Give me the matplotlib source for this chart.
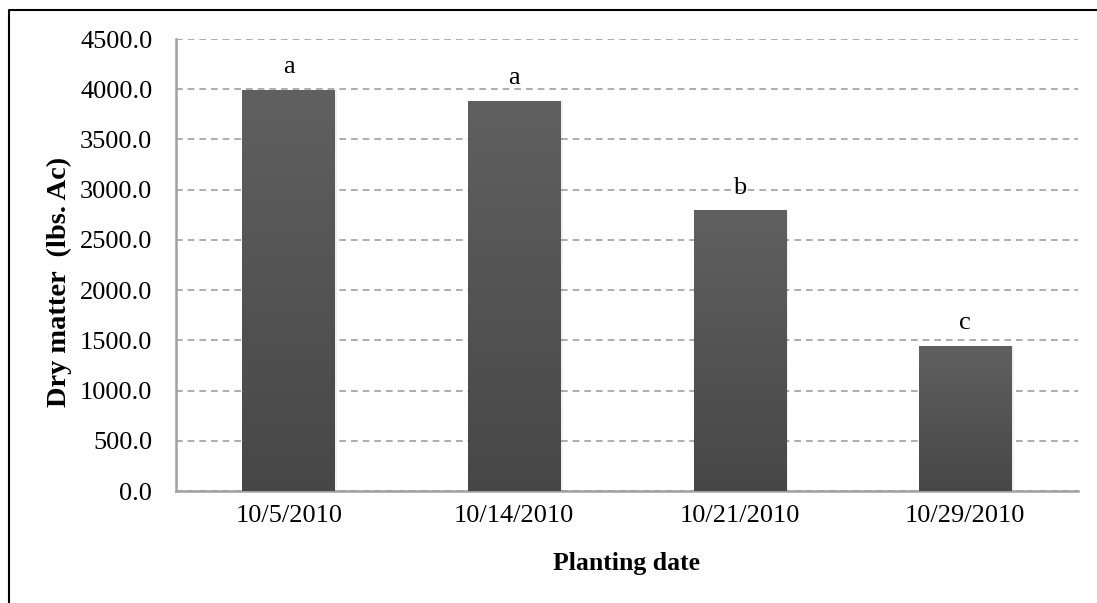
import matplotlib
matplotlib.use("Agg")
import matplotlib.pyplot as plt
from matplotlib.lines import Line2D
import numpy as np

plt.rcParams['font.family'] = ['Liberation Serif', 'DejaVu Serif']

dates = ["10/5/2010", "10/14/2010", "10/21/2010", "10/29/2010"]
dry_matter = [3990.0, 3880.0, 2790.0, 1440.0]
letters = ["a", "a", "b", "c"]
y_ticks = [0, 500, 1000, 1500, 2000, 2500, 3000, 3500, 4000, 4500]


def main():
    fig = plt.figure(figsize=(10.97, 6.03), dpi=100)
    ax = fig.add_axes([0.1604, 0.1857, 0.8223, 0.7496])

    x = np.arange(len(dates))
    width = 0.41

    # vertical gray gradient, lighter at the top
    grad = np.linspace(0, 1, 256).reshape(-1, 1)
    cmap = matplotlib.colors.LinearSegmentedColormap.from_list(
        "bar", ["#474747", "#606060"])

    for xi, val, lab in zip(x, dry_matter, letters):
        # soft shadow behind the bar
        ax.bar(xi + 0.006, val, width=width + 0.01, color="#000000",
               alpha=0.06, zorder=2, linewidth=0)
        ax.imshow(grad, cmap=cmap, origin="lower", aspect="auto",
                  extent=[xi - width / 2, xi + width / 2, 0, val], zorder=3)
        ax.text(xi, val + 230, lab, ha="center", va="center", fontsize=19)

    ax.set_xlim(-0.5, len(dates) - 0.5)
    ax.set_ylim(0, 4500)
    ax.set_xticks(x)
    ax.set_xticklabels(dates)
    ax.set_yticks(y_ticks)
    ax.set_yticklabels(["%.1f" % t for t in y_ticks])
    ax.tick_params(axis="both", length=0, labelsize=19, pad=10)
    ax.tick_params(axis="y", pad=17)

    ax.grid(True, axis="y", ls=(0, (4, 3)), color="#a0a0a0", lw=1.2, zorder=1)
    ax.set_axisbelow(True)
    for side in ["top", "right"]:
        ax.spines[side].set_visible(False)
    for side in ["left", "bottom"]:
        ax.spines[side].set_color("#a0a0a0")
        ax.spines[side].set_linewidth(1.8)

    ax.set_xlabel("Planting date", fontsize=18.5, fontweight="bold", labelpad=18)
    ax.set_ylabel("Dry matter  (lbs. Ac)", fontsize=20.5, fontweight="bold",
                  labelpad=6)
    ax.yaxis.label.set_y(0.462)

    # outer frame, top and left edges only
    fx = 8.5 / 1097
    fy = 1 - 9.5 / 603
    fig.add_artist(Line2D([fx, fx, 1.0], [0.0, fy, fy], color="black", lw=1.5,
                          transform=fig.transFigure))

    fig.savefig("out.png", dpi=100)


if __name__ == '__main__':
    main()
